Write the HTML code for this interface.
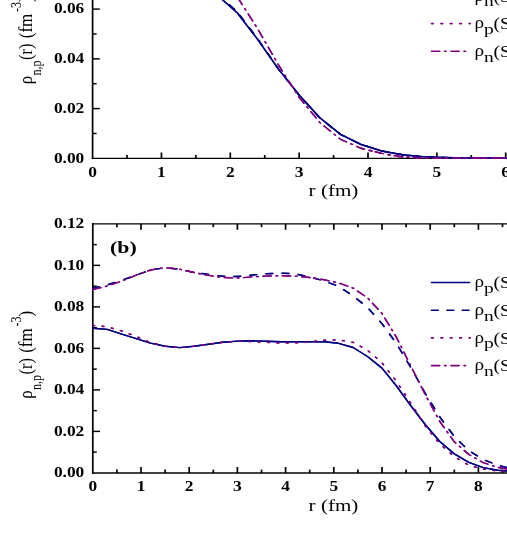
<!DOCTYPE html>
<html><head><meta charset="utf-8"><title>chart</title>
<style>
html,body{margin:0;padding:0;background:#fff;}
body{width:507px;height:550px;overflow:hidden;}
svg{display:block;font-family:"Liberation Serif",serif;will-change:transform;}
</style></head><body>
<svg width="507" height="550" viewBox="0 0 507 550">
<rect width="507" height="550" fill="#fff"/>
<g stroke="#000" fill="none" stroke-linecap="butt">
<g stroke-width="1.7">
<path d="M92.6,-5 V159.07"/>
<path d="M92.8,223.12 V473.62"/>
<path d="M127.02,158.35 v-3.3"/>
<path d="M161.45,158.35 v-5.9"/>
<path d="M195.88,158.35 v-3.3"/>
<path d="M230.30,158.35 v-5.9"/>
<path d="M264.73,158.35 v-3.3"/>
<path d="M299.15,158.35 v-5.9"/>
<path d="M333.57,158.35 v-3.3"/>
<path d="M368.00,158.35 v-5.9"/>
<path d="M402.42,158.35 v-3.3"/>
<path d="M436.85,158.35 v-5.9"/>
<path d="M471.27,158.35 v-3.3"/>
<path d="M505.70,158.35 v-5.9"/>
<path d="M116.90,472.9 v-3.3"/>
<path d="M116.90,223.85 v3.3"/>
<path d="M141.00,472.9 v-5.9"/>
<path d="M141.00,223.85 v5.9"/>
<path d="M165.10,472.9 v-3.3"/>
<path d="M165.10,223.85 v3.3"/>
<path d="M189.20,472.9 v-5.9"/>
<path d="M189.20,223.85 v5.9"/>
<path d="M213.30,472.9 v-3.3"/>
<path d="M213.30,223.85 v3.3"/>
<path d="M237.40,472.9 v-5.9"/>
<path d="M237.40,223.85 v5.9"/>
<path d="M261.50,472.9 v-3.3"/>
<path d="M261.50,223.85 v3.3"/>
<path d="M285.60,472.9 v-5.9"/>
<path d="M285.60,223.85 v5.9"/>
<path d="M309.70,472.9 v-3.3"/>
<path d="M309.70,223.85 v3.3"/>
<path d="M333.80,472.9 v-5.9"/>
<path d="M333.80,223.85 v5.9"/>
<path d="M357.90,472.9 v-3.3"/>
<path d="M357.90,223.85 v3.3"/>
<path d="M382.00,472.9 v-5.9"/>
<path d="M382.00,223.85 v5.9"/>
<path d="M406.10,472.9 v-3.3"/>
<path d="M406.10,223.85 v3.3"/>
<path d="M430.20,472.9 v-5.9"/>
<path d="M430.20,223.85 v5.9"/>
<path d="M454.30,472.9 v-3.3"/>
<path d="M454.30,223.85 v3.3"/>
<path d="M478.40,472.9 v-5.9"/>
<path d="M478.40,223.85 v5.9"/>
<path d="M502.50,472.9 v-3.3"/>
<path d="M502.50,223.85 v3.3"/>
<path d="M526.60,472.9 v-5.9"/>
<path d="M526.60,223.85 v5.9"/>
</g>
<g stroke-width="1.45">
<path d="M91.75,158.35 H512"/>
<path d="M91.95,223.85 H512"/>
<path d="M91.95,472.9 H512"/>
<path d="M92.6,133.47 h4.0"/>
<path d="M92.6,108.59 h7.2"/>
<path d="M92.6,83.71 h4.0"/>
<path d="M92.6,58.83 h7.2"/>
<path d="M92.6,33.95 h4.0"/>
<path d="M92.6,9.07 h7.2"/>
<path d="M92.6,-15.81 h4.0"/>
<path d="M92.8,452.14 h4.0"/>
<path d="M92.8,431.39 h7.2"/>
<path d="M92.8,410.63 h4.0"/>
<path d="M92.8,389.88 h7.2"/>
<path d="M92.8,369.12 h4.0"/>
<path d="M92.8,348.37 h7.2"/>
<path d="M92.8,327.62 h4.0"/>
<path d="M92.8,306.86 h7.2"/>
<path d="M92.8,286.11 h4.0"/>
<path d="M92.8,265.35 h7.2"/>
<path d="M92.8,244.59 h4.0"/>
</g>
</g>
<g fill="none" stroke-width="1.4" stroke-linejoin="round" stroke-linecap="round">
<path transform="translate(-0.17 0)" d="M195.9,-21.0 L216.5,-5.5 L237.2,12.7 L257.8,39.6 L278.5,69.1 L299.1,95.0 L319.8,117.8 L340.5,134.4 L361.1,144.5 L381.8,151.0 L402.4,154.8 L423.1,156.6 L443.7,157.5 L464.4,158.0 L485.0,158.2 L505.7,158.3 L526.4,158.3" stroke="#000080"/>
<path transform="translate(0.17 0)" d="M195.9,-21.0 L216.5,-5.5 L237.2,12.7 L257.8,39.6 L278.5,69.1 L299.1,95.0 L319.8,117.8 L340.5,134.4 L361.1,144.5 L381.8,151.0 L402.4,154.8 L423.1,156.6 L443.7,157.5 L464.4,158.0 L485.0,158.2 L505.7,158.3 L526.4,158.3" stroke="#000080"/>
<path transform="translate(-0.17 0)" d="M195.9,-22.1 L216.5,-6.6 L237.2,11.6 L257.8,39.0 L278.5,69.1 L299.1,95.0 L319.8,117.8 L340.5,134.4 L361.1,144.5 L381.8,151.0 L402.4,154.8 L423.1,156.6 L443.7,157.5 L464.4,158.0 L485.0,158.2 L505.7,158.3 L526.4,158.3" stroke="#000080" stroke-dasharray="6.8 8.6" stroke-dashoffset="3.32"/>
<path transform="translate(0.17 0)" d="M195.9,-22.1 L216.5,-6.6 L237.2,11.6 L257.8,39.0 L278.5,69.1 L299.1,95.0 L319.8,117.8 L340.5,134.4 L361.1,144.5 L381.8,151.0 L402.4,154.8 L423.1,156.6 L443.7,157.5 L464.4,158.0 L485.0,158.2 L505.7,158.3 L526.4,158.3" stroke="#000080" stroke-dasharray="6.8 8.6" stroke-dashoffset="3.32"/>
<path transform="translate(-0.17 0)" d="M361.1,148.3 L381.8,153.4 L402.4,157.0 L423.1,158.0 L443.7,158.3 L464.4,158.3 L485.0,158.3 L505.7,158.3 L526.4,158.3" stroke="#800080" stroke-dasharray="1.8 7.6"/>
<path transform="translate(0.17 0)" d="M361.1,148.3 L381.8,153.4 L402.4,157.0 L423.1,158.0 L443.7,158.3 L464.4,158.3 L485.0,158.3 L505.7,158.3 L526.4,158.3" stroke="#800080" stroke-dasharray="1.8 7.6"/>
<path transform="translate(-0.17 0)" d="M237.2,-3.2 L257.8,29.0 L278.5,65.0 L299.1,97.3 L319.8,122.5 L340.5,139.3 L361.1,148.3 L381.8,153.4 L402.4,157.0 L423.1,158.0 L443.7,158.3 L464.4,158.3 L485.0,158.3 L505.7,158.3 L526.4,158.3" stroke="#800080" stroke-dasharray="8.3 4.75 1.6 4.75" stroke-dashoffset="18.42"/>
<path transform="translate(0.17 0)" d="M237.2,-3.2 L257.8,29.0 L278.5,65.0 L299.1,97.3 L319.8,122.5 L340.5,139.3 L361.1,148.3 L381.8,153.4 L402.4,157.0 L423.1,158.0 L443.7,158.3 L464.4,158.3 L485.0,158.3 L505.7,158.3 L526.4,158.3" stroke="#800080" stroke-dasharray="8.3 4.75 1.6 4.75" stroke-dashoffset="18.42"/>
<path transform="translate(-0.17 0)" d="M92.8,328.2 L107.3,329.4 L121.7,334.2 L136.2,338.7 L150.6,343.1 L165.1,346.3 L179.6,347.6 L194.0,346.3 L208.5,344.3 L222.9,342.2 L237.4,341.1 L251.9,340.8 L266.3,341.3 L280.8,341.7 L295.2,341.9 L309.7,341.7 L324.2,341.8 L338.6,343.3 L353.1,347.5 L367.5,356.5 L382.0,368.1 L396.5,386.0 L410.9,405.8 L425.4,424.7 L439.8,441.5 L454.3,453.9 L468.8,462.3 L483.2,467.6 L497.7,470.2 L512.1,471.5" stroke="#000080"/>
<path transform="translate(0.17 0)" d="M92.8,328.2 L107.3,329.4 L121.7,334.2 L136.2,338.7 L150.6,343.1 L165.1,346.3 L179.6,347.6 L194.0,346.3 L208.5,344.3 L222.9,342.2 L237.4,341.1 L251.9,340.8 L266.3,341.3 L280.8,341.7 L295.2,341.9 L309.7,341.7 L324.2,341.8 L338.6,343.3 L353.1,347.5 L367.5,356.5 L382.0,368.1 L396.5,386.0 L410.9,405.8 L425.4,424.7 L439.8,441.5 L454.3,453.9 L468.8,462.3 L483.2,467.6 L497.7,470.2 L512.1,471.5" stroke="#000080"/>
<path transform="translate(-0.17 0)" d="M92.8,288.4 L107.3,284.9 L121.7,280.3 L136.2,275.1 L150.6,270.0 L165.1,267.7 L179.6,269.2 L194.0,272.5 L208.5,274.4 L222.9,276.3 L237.4,276.5 L251.9,275.1 L266.3,273.7 L280.8,273.1 L295.2,273.9 L309.7,276.9 L324.2,281.0 L338.6,286.3 L353.1,296.0 L367.5,307.4 L382.0,323.7 L396.5,343.6 L410.9,367.6 L425.4,393.6 L439.8,417.0 L454.3,436.5 L468.8,450.6 L483.2,459.5 L497.7,465.3 L512.1,468.8" stroke="#000080" stroke-dasharray="6.8 9.3"/>
<path transform="translate(0.17 0)" d="M92.8,288.4 L107.3,284.9 L121.7,280.3 L136.2,275.1 L150.6,270.0 L165.1,267.7 L179.6,269.2 L194.0,272.5 L208.5,274.4 L222.9,276.3 L237.4,276.5 L251.9,275.1 L266.3,273.7 L280.8,273.1 L295.2,273.9 L309.7,276.9 L324.2,281.0 L338.6,286.3 L353.1,296.0 L367.5,307.4 L382.0,323.7 L396.5,343.6 L410.9,367.6 L425.4,393.6 L439.8,417.0 L454.3,436.5 L468.8,450.6 L483.2,459.5 L497.7,465.3 L512.1,468.8" stroke="#000080" stroke-dasharray="6.8 9.3"/>
<path transform="translate(-0.17 0)" d="M92.8,325.4 L107.3,326.8 L121.7,331.0 L136.2,336.5 L150.6,342.5 L165.1,346.3 L179.6,347.6 L194.0,346.3 L208.5,344.3 L222.9,342.2 L237.4,341.2 L251.9,341.7 L266.3,342.3 L280.8,343.1 L295.2,342.9 L309.7,341.7 L324.2,340.2 L338.6,339.9 L353.1,342.3 L367.5,350.2 L382.0,362.8 L396.5,381.3 L410.9,403.4 L425.4,426.0 L439.8,444.0 L454.3,456.5 L468.8,465.3 L483.2,469.1 L497.7,471.1 L512.1,472.0" stroke="#800080" stroke-dasharray="1.8 7.6"/>
<path transform="translate(0.17 0)" d="M92.8,325.4 L107.3,326.8 L121.7,331.0 L136.2,336.5 L150.6,342.5 L165.1,346.3 L179.6,347.6 L194.0,346.3 L208.5,344.3 L222.9,342.2 L237.4,341.2 L251.9,341.7 L266.3,342.3 L280.8,343.1 L295.2,342.9 L309.7,341.7 L324.2,340.2 L338.6,339.9 L353.1,342.3 L367.5,350.2 L382.0,362.8 L396.5,381.3 L410.9,403.4 L425.4,426.0 L439.8,444.0 L454.3,456.5 L468.8,465.3 L483.2,469.1 L497.7,471.1 L512.1,472.0" stroke="#800080" stroke-dasharray="1.8 7.6"/>
<path transform="translate(-0.17 0)" d="M92.8,289.6 L107.3,286.0 L121.7,281.0 L136.2,275.2 L150.6,270.0 L165.1,267.7 L179.6,269.2 L194.0,272.5 L208.5,275.4 L222.9,277.5 L237.4,278.1 L251.9,276.9 L266.3,276.1 L280.8,275.7 L295.2,276.1 L309.7,277.5 L324.2,279.8 L338.6,283.0 L353.1,288.1 L367.5,297.8 L382.0,313.5 L396.5,337.4 L410.9,366.2 L425.4,394.8 L439.8,421.5 L454.3,441.8 L468.8,454.4 L483.2,462.6 L497.7,467.3 L512.1,470.0" stroke="#800080" stroke-dasharray="8.3 4.75 1.6 4.75"/>
<path transform="translate(0.17 0)" d="M92.8,289.6 L107.3,286.0 L121.7,281.0 L136.2,275.2 L150.6,270.0 L165.1,267.7 L179.6,269.2 L194.0,272.5 L208.5,275.4 L222.9,277.5 L237.4,278.1 L251.9,276.9 L266.3,276.1 L280.8,275.7 L295.2,276.1 L309.7,277.5 L324.2,279.8 L338.6,283.0 L353.1,288.1 L367.5,297.8 L382.0,313.5 L396.5,337.4 L410.9,366.2 L425.4,394.8 L439.8,421.5 L454.3,441.8 L468.8,454.4 L483.2,462.6 L497.7,467.3 L512.1,470.0" stroke="#800080" stroke-dasharray="8.3 4.75 1.6 4.75"/>
</g>
<text transform="translate(84.30 162.50) scale(1.2 1)" font-size="14.5" font-weight="bold" text-anchor="end" >0.00</text>
<text transform="translate(84.30 112.74) scale(1.2 1)" font-size="14.5" font-weight="bold" text-anchor="end" >0.02</text>
<text transform="translate(84.30 62.98) scale(1.2 1)" font-size="14.5" font-weight="bold" text-anchor="end" >0.04</text>
<text transform="translate(84.30 13.22) scale(1.2 1)" font-size="14.5" font-weight="bold" text-anchor="end" >0.06</text>
<text transform="translate(92.60 176.50) scale(1.2 1)" font-size="14.5" font-weight="bold" text-anchor="middle" >0</text>
<text transform="translate(161.45 176.50) scale(1.2 1)" font-size="14.5" font-weight="bold" text-anchor="middle" >1</text>
<text transform="translate(230.30 176.50) scale(1.2 1)" font-size="14.5" font-weight="bold" text-anchor="middle" >2</text>
<text transform="translate(299.15 176.50) scale(1.2 1)" font-size="14.5" font-weight="bold" text-anchor="middle" >3</text>
<text transform="translate(368.00 176.50) scale(1.2 1)" font-size="14.5" font-weight="bold" text-anchor="middle" >4</text>
<text transform="translate(436.85 176.50) scale(1.2 1)" font-size="14.5" font-weight="bold" text-anchor="middle" >5</text>
<text transform="translate(505.70 176.50) scale(1.2 1)" font-size="14.5" font-weight="bold" text-anchor="middle" >6</text>
<text transform="translate(84.30 477.05) scale(1.2 1)" font-size="14.5" font-weight="bold" text-anchor="end" >0.00</text>
<text transform="translate(84.30 435.54) scale(1.2 1)" font-size="14.5" font-weight="bold" text-anchor="end" >0.02</text>
<text transform="translate(84.30 394.03) scale(1.2 1)" font-size="14.5" font-weight="bold" text-anchor="end" >0.04</text>
<text transform="translate(84.30 352.52) scale(1.2 1)" font-size="14.5" font-weight="bold" text-anchor="end" >0.06</text>
<text transform="translate(84.30 311.01) scale(1.2 1)" font-size="14.5" font-weight="bold" text-anchor="end" >0.08</text>
<text transform="translate(84.30 269.50) scale(1.2 1)" font-size="14.5" font-weight="bold" text-anchor="end" >0.10</text>
<text transform="translate(84.30 227.99) scale(1.2 1)" font-size="14.5" font-weight="bold" text-anchor="end" >0.12</text>
<text transform="translate(92.80 490.70) scale(1.2 1)" font-size="14.5" font-weight="bold" text-anchor="middle" >0</text>
<text transform="translate(141.00 490.70) scale(1.2 1)" font-size="14.5" font-weight="bold" text-anchor="middle" >1</text>
<text transform="translate(189.20 490.70) scale(1.2 1)" font-size="14.5" font-weight="bold" text-anchor="middle" >2</text>
<text transform="translate(237.40 490.70) scale(1.2 1)" font-size="14.5" font-weight="bold" text-anchor="middle" >3</text>
<text transform="translate(285.60 490.70) scale(1.2 1)" font-size="14.5" font-weight="bold" text-anchor="middle" >4</text>
<text transform="translate(333.80 490.70) scale(1.2 1)" font-size="14.5" font-weight="bold" text-anchor="middle" >5</text>
<text transform="translate(382.00 490.70) scale(1.2 1)" font-size="14.5" font-weight="bold" text-anchor="middle" >6</text>
<text transform="translate(430.20 490.70) scale(1.2 1)" font-size="14.5" font-weight="bold" text-anchor="middle" >7</text>
<text transform="translate(478.40 490.70) scale(1.2 1)" font-size="14.5" font-weight="bold" text-anchor="middle" >8</text>
<text transform="translate(308.60 196.00) scale(1.2 1)" font-size="17.6" font-weight="normal" text-anchor="start" >r (fm)</text>
<text transform="translate(308.60 511.10) scale(1.2 1)" font-size="17.6" font-weight="normal" text-anchor="start" >r (fm)</text>
<text transform="translate(32.20 398.80) scale(1.12 1) rotate(-90)" font-size="17">ρ</text><text transform="translate(41.40 390.00) scale(1.3 1) rotate(-90)" font-size="12">n,p</text><text transform="translate(32.20 374.50) scale(1.12 1) rotate(-90)" font-size="16.5">(r)</text><text transform="translate(32.20 352.80) scale(1.12 1) rotate(-90)" font-size="17">(fm</text><text transform="translate(21.40 326.50) scale(1.2 1) rotate(-90)" font-size="12">-3</text><text transform="translate(32.20 316.50) scale(1.12 1) rotate(-90)" font-size="17">)</text>
<text transform="translate(32.20 84.20) scale(1.12 1) rotate(-90)" font-size="17">ρ</text><text transform="translate(41.40 75.40) scale(1.3 1) rotate(-90)" font-size="12">n,p</text><text transform="translate(32.20 59.90) scale(1.12 1) rotate(-90)" font-size="16.5">(r)</text><text transform="translate(32.20 38.20) scale(1.12 1) rotate(-90)" font-size="17">(fm</text><text transform="translate(21.40 11.90) scale(1.2 1) rotate(-90)" font-size="12">-3</text><text transform="translate(32.20 1.90) scale(1.12 1) rotate(-90)" font-size="17">)</text>
<text transform="translate(110.00 252.90) scale(1.3 1)" font-size="16.8" font-weight="bold" text-anchor="start" >(b)</text>
<path stroke-linecap="round" d="M431.5,282.50 H469.6" stroke="#000080" stroke-width="1.6" fill="none"/>
<text transform="translate(474.5 287.20) scale(1.2 1)" font-size="16">ρ</text>
<text transform="translate(484.0 293.00) scale(1.3 1)" font-size="15">p</text>
<text transform="translate(493.4 288.10) scale(1.2 1)" font-size="16.5">(SHF)</text>
<path stroke-linecap="round" d="M431.5,310.20 H469.6" stroke="#000080" stroke-width="1.6" fill="none" stroke-dasharray="6.8 8.6"/>
<text transform="translate(474.5 314.90) scale(1.2 1)" font-size="16">ρ</text>
<text transform="translate(484.0 320.70) scale(1.3 1)" font-size="15">n</text>
<text transform="translate(493.4 315.80) scale(1.2 1)" font-size="16.5">(SHF)</text>
<path stroke-linecap="round" d="M431.5,337.90 H470.3" stroke="#800080" stroke-width="1.6" fill="none" stroke-dasharray="1.8 7.6"/>
<text transform="translate(474.5 342.60) scale(1.2 1)" font-size="16">ρ</text>
<text transform="translate(484.0 348.40) scale(1.3 1)" font-size="15">p</text>
<text transform="translate(493.4 343.50) scale(1.2 1)" font-size="16.5">(SHF)</text>
<path stroke-linecap="round" d="M431.5,365.60 H468.6" stroke="#800080" stroke-width="1.6" fill="none" stroke-dasharray="8.3 4.75 1.6 4.75"/>
<text transform="translate(474.5 370.30) scale(1.2 1)" font-size="16">ρ</text>
<text transform="translate(484.0 376.10) scale(1.3 1)" font-size="15">n</text>
<text transform="translate(493.4 371.20) scale(1.2 1)" font-size="16.5">(SHF)</text>
<path stroke-linecap="round" d="M431.5,-31.80 H469.6" stroke="#000080" stroke-width="1.6" fill="none"/>
<text transform="translate(474.5 -27.10) scale(1.2 1)" font-size="16">ρ</text>
<text transform="translate(484.0 -21.30) scale(1.3 1)" font-size="15">p</text>
<text transform="translate(493.4 -26.20) scale(1.2 1)" font-size="16.5">(SHF)</text>
<path stroke-linecap="round" d="M431.5,-4.10 H469.6" stroke="#000080" stroke-width="1.6" fill="none" stroke-dasharray="6.8 8.6"/>
<text transform="translate(474.5 0.60) scale(1.2 1)" font-size="16">ρ</text>
<text transform="translate(484.0 6.40) scale(1.3 1)" font-size="15">n</text>
<text transform="translate(493.4 1.50) scale(1.2 1)" font-size="16.5">(SHF)</text>
<path stroke-linecap="round" d="M431.5,23.60 H470.3" stroke="#800080" stroke-width="1.6" fill="none" stroke-dasharray="1.8 7.6"/>
<text transform="translate(474.5 28.30) scale(1.2 1)" font-size="16">ρ</text>
<text transform="translate(484.0 34.10) scale(1.3 1)" font-size="15">p</text>
<text transform="translate(493.4 29.20) scale(1.2 1)" font-size="16.5">(SHF)</text>
<path stroke-linecap="round" d="M431.5,51.30 H468.6" stroke="#800080" stroke-width="1.6" fill="none" stroke-dasharray="8.3 4.75 1.6 4.75"/>
<text transform="translate(474.5 56.00) scale(1.2 1)" font-size="16">ρ</text>
<text transform="translate(484.0 61.80) scale(1.3 1)" font-size="15">n</text>
<text transform="translate(493.4 56.90) scale(1.2 1)" font-size="16.5">(SHF)</text>
</svg>
</body></html>
